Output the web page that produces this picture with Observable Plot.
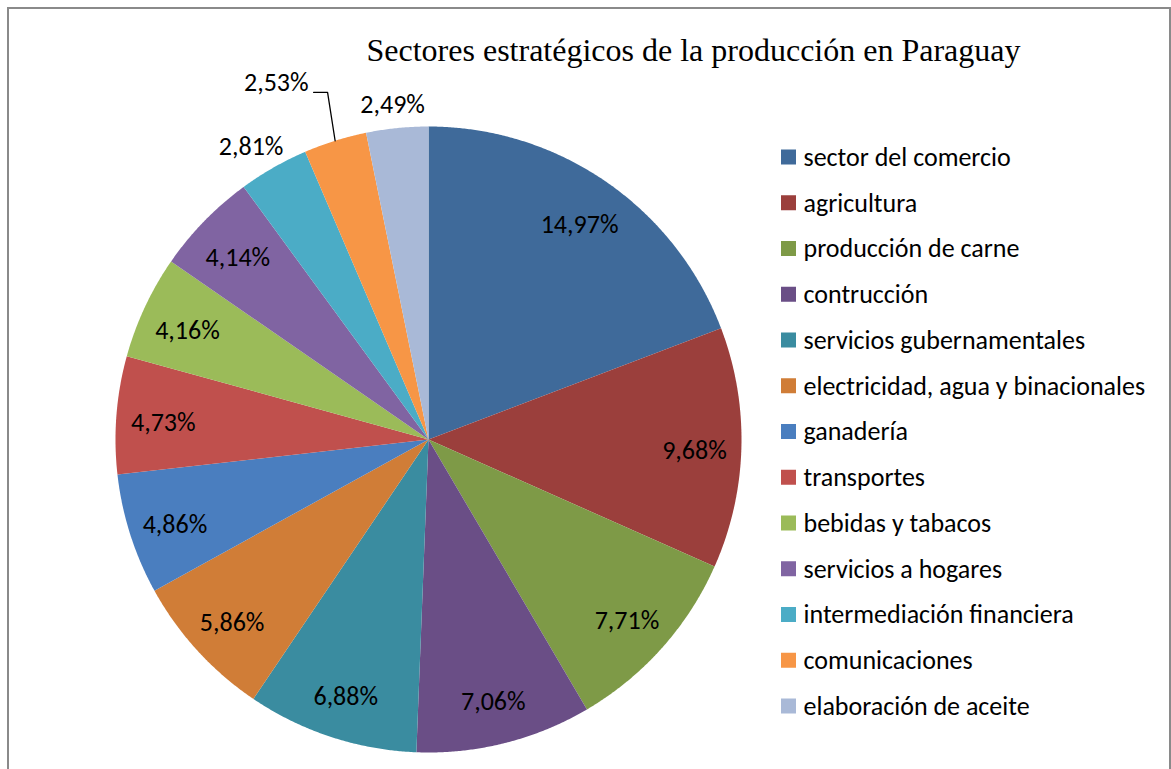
<!DOCTYPE html>
<html><head><meta charset="utf-8">
<script src="https://cdn.jsdelivr.net/npm/d3@7"></script>
<script src="https://cdn.jsdelivr.net/npm/@observablehq/plot@0.6"></script>
<style>body{margin:0;background:#fff;overflow:hidden}</style>
</head><body><div id="chart"></div>
<script>
// ---- data ----
const sectors = [
  "sector del comercio", "agricultura", "producción de carne", "contrucción",
  "servicios gubernamentales", "electricidad, agua y binacionales", "ganadería",
  "transportes", "bebidas y tabacos", "servicios a hogares",
  "intermediación financiera", "comunicaciones", "elaboración de aceite"
];
const values = [14.97, 9.68, 7.71, 7.06, 6.88, 5.86, 4.86, 4.73, 4.16, 4.14, 2.81, 2.53, 2.49];
const colors = [
  "#3F6A9A", "#9B3F3C", "#7E9A47", "#6A4E86", "#3A8CA0", "#D07D37", "#4A7EBF",
  "#C0504D", "#9BBB59", "#8064A2", "#4BACC6", "#F79646", "#A9B9D7"
];
const title = "Sectores estratégicos de la producción en Paraguay";

// ---- layout ----
const W = 1171, H = 769, CX = 428, CY = 439, R = 313;
const FONT = "Carlito, Calibri, Lato, sans-serif";
const LABEL_SIZE = 26, LEGEND_SIZE = 26;
const insideR = 0.85, outsideGap = 1.04;
const leaderSector = "comunicaciones";

const arcs = d3.pie().sort(null).value(d => d)(values);
const pt = (a, r) => ({x: CX + r * Math.sin(a), y: CY - r * Math.cos(a)});

const slicePts = [];
arcs.forEach((a, i) => {
  const name = sectors[i];
  slicePts.push({...pt(0, 0), name});
  const n = Math.max(4, Math.ceil((a.endAngle - a.startAngle) / 0.005));
  for (let k = 0; k <= n; k++) {
    const ang = a.startAngle + (a.endAngle - a.startAngle) * k / n;
    slicePts.push({...pt(ang, R), name});
  }
  slicePts.push({...pt(0, 0), name});
});

const fmt = v => v.toFixed(2).replace(".", ",") + "%";
const total = d3.sum(values);
const labels = [];
const leader = [];
arcs.forEach((a, i) => {
  const mid = (a.startAngle + a.endAngle) / 2;
  const share = values[i] / total;
  const text = fmt(values[i]);
  if (sectors[i] === leaderSector) {
    const p0 = pt(mid, R);
    const p1 = pt(mid + 0.02, R * 1.155);
    const p2 = {x: p1.x - 14, y: p1.y};
    leader.push(p0, p1, p2);
    labels.push({x: p2.x - 5, y: p2.y - 10, text, anchor: "end"});
  } else if (share < 0.04) {
    const p = pt(mid, R * outsideGap);
    const w = text.length * LABEL_SIZE * 0.5, h = LABEL_SIZE * 0.85;
    labels.push({x: p.x + Math.sin(mid) * w / 2, y: p.y - Math.cos(mid) * h / 2, text, anchor: "middle"});
  } else {
    const p = pt(mid, R * insideR);
    labels.push({x: p.x, y: p.y + 4, text, anchor: "middle"});
  }
});

const legendRows = sectors.map((s, i) => ({name: s, y: 157 + i * 45.75}));

const chart = Plot.plot({
  width: W, height: H,
  margin: 0,
  x: {type: "identity", axis: null},
  y: {type: "identity", axis: null},
  color: {type: "ordinal", domain: sectors, range: colors},
  style: {background: "#fff"},
  marks: [
    Plot.rect([0], {x1: 8, x2: 1170, y1: 8, y2: 776, fill: "none", stroke: "#8a8a8a", strokeWidth: 2}),
    Plot.line(slicePts, {x: "x", y: "y", z: "name", fill: "name", stroke: "none"}),
    Plot.line(leader, {x: "x", y: "y", stroke: "#000", strokeWidth: 1.3}),
    Plot.text(labels.filter(d => d.anchor === "middle"), {x: "x", y: "y", text: "text", fontSize: LABEL_SIZE, fontFamily: FONT, fill: "#000"}),
    Plot.text(labels.filter(d => d.anchor === "end"), {x: "x", y: "y", text: "text", textAnchor: "end", fontSize: LABEL_SIZE, fontFamily: FONT, fill: "#000"}),
    Plot.rect(legendRows, {x1: 781, x2: 796, y1: d => d.y - 7.5, y2: d => d.y + 7.5, fill: "name"}),
    Plot.text(legendRows, {x: 803, y: "y", text: "name", textAnchor: "start", fontSize: LEGEND_SIZE, fontFamily: FONT, fill: "#000"}),
    Plot.text([title], {x: 693, y: 50, text: d => d, fontSize: 32, fontFamily: "'Liberation Serif', 'Times New Roman', serif", fill: "#000"})
  ]
});
document.getElementById("chart").appendChild(chart);
</script>
</body></html>
